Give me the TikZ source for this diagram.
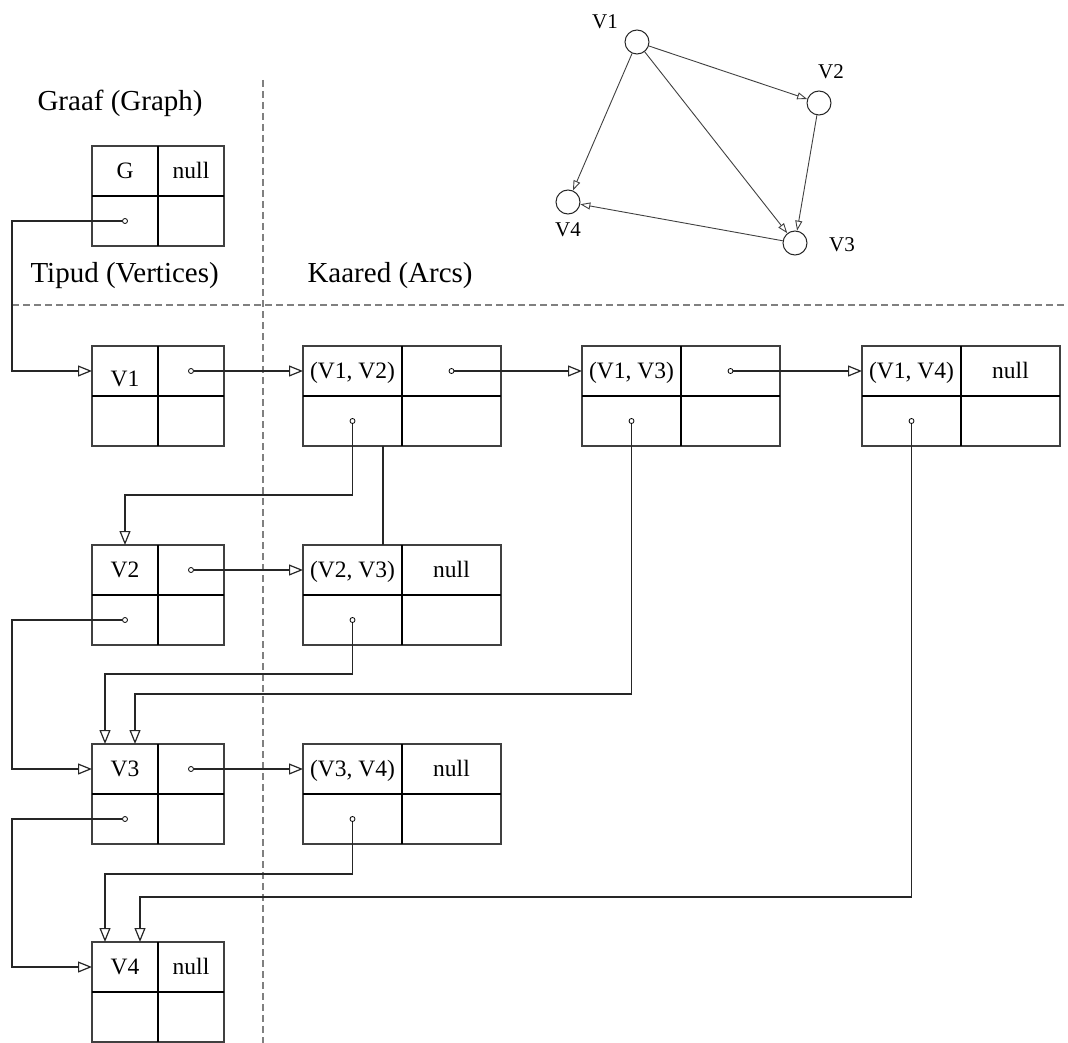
\documentclass[tikz,border=0pt]{standalone}
\usepackage{fontspec}
\setmainfont{Liberation Serif}
\usetikzlibrary{arrows.meta,positioning,calc}

\begin{document}
\begin{tikzpicture}[
    x=1pt, y=-1pt,
    cell/.style={rectangle, minimum height=50pt, inner sep=0pt, outer sep=0pt, anchor=north west,
        text height=16pt, text depth=0.5pt, font=\fontsize{23.5}{28}\selectfont},
    boxline/.style={line width=1.2pt, black!75},
    midline/.style={line width=1.8pt},
    dot/.style={circle, draw, fill=white, minimum size=5pt, inner sep=0pt, line width=0.8pt},
    link/.style={-{Triangle[open, length=14pt, width=11pt]}, line width=1.2pt, black!85},
    wire/.style={line width=1.2pt, black!85},
    vert/.style={circle, draw, minimum size=24pt, inner sep=0pt, line width=1pt, black!85},
    garc/.style={-{Triangle[open, length=10pt, width=7pt]}, line width=0.9pt, black!75},
    glabel/.style={font=\fontsize{21}{25}\selectfont},
    title/.style={anchor=base west, font=\fontsize{29}{34}\selectfont},
    sep/.style={gray, line width=1.2pt, dash pattern=on 7pt off 4pt}
]
    \useasboundingbox (0,0) rectangle (1068,1043);

    % Separators
    \draw[sep] (263,80) -- (263,1043);
    \draw[sep] (12,305) -- (1068,305);

    % Titles
    \node[title] (tgraph) at (34,111) {Graaf (Graph)};
    \node[title] (tvert) at (27,282) {Tipud (Vertices)};
    \node[title] (tarc) at (304,282) {Kaared (Arcs)};

    % Records
    \foreach \n/\x/\y/\w/\ta/\tb in {g/92/146/66/G/null, v1/92/346/66/{\raisebox{-8pt}{V1}}/,
        v2/92/545/66/V2/, v3/92/744/66/V3/, v4/92/942/66/V4/null,
        a12/303/346/99/{(V1, V2)}/, a13/582/346/99/{(V1, V3)}/, a14/862/346/99/{(V1, V4)}/null,
        a23/303/545/99/{(V2, V3)}/null, a34/303/744/99/{(V3, V4)}/null} {
        \node[cell, minimum width=\w] (\n-a) at (\x,\y) {\ta};
        \node[cell, minimum width=\w] (\n-b) at (\n-a.north east) {\tb};
        \node[cell, minimum width=\w] (\n-c) at (\n-a.south west) {};
        \node[cell, minimum width=\w] (\n-d) at (\n-c.north east) {};
        \draw[boxline] (\n-a.north west) rectangle (\n-d.south east);
        \draw[midline] (\n-a.south west) -- (\n-b.south east);
        \draw[midline] (\n-a.north east) -- (\n-c.south east);
    }

    % Pointer dots
    \foreach \n in {g-c, v1-b, v2-b, v2-c, v3-b, v3-c, a12-b, a12-c, a13-b, a13-c, a14-c, a23-c, a34-c} {
        \node[dot] (p-\n) at (\n) {};
    }

    % Links
    \coordinate (lft) at (12,0);
    \draw[link] (p-g-c) -- (p-g-c -| lft) |- (v1-a.west);
    \draw[link] (p-v2-c) -- (p-v2-c -| lft) |- (v3-a.west);
    \draw[link] (p-v3-c) -- (p-v3-c -| lft) |- (v4-a.west);
    \draw[link] (p-v1-b) -- (a12-a.west);
    \draw[link] (p-a12-b) -- (a13-a.west);
    \draw[link] (p-a13-b) -- (a14-a.west);
    \draw[link] (p-v2-b) -- (a23-a.west);
    \draw[link] (p-v3-b) -- (a34-a.west);
    \draw[link] (p-a12-c) -- ++(0,74) -| (v2-a.north);
    \draw[wire] ([xshift=-19pt]a12-c.south east) -- ([xshift=-19pt]a23-a.north east);
    \draw[link] (p-a23-c) -- ++(0,54) -| ([xshift=13pt]v3-a.north west);
    \draw[link] (p-a13-c) -- ++(0,273) -| ([xshift=43pt]v3-a.north west);
    \draw[link] (p-a34-c) -- ++(0,55) -| ([xshift=13pt]v4-a.north west);
    \draw[link] (p-a14-c) -- ++(0,476) -| ([xshift=48pt]v4-a.north west);

    % Small graph
    \node[vert] (gv1) at (637,42) {};
    \node[vert] (gv2) at (819,103) {};
    \node[vert] (gv3) at (795,243) {};
    \node[vert] (gv4) at (568,202) {};
    \node[glabel] (lv1) at (605,22) {V1};
    \node[glabel] (lv2) at (831,72) {V2};
    \node[glabel] (lv3) at (842,245) {V3};
    \node[glabel] (lv4) at (568,230) {V4};
    \draw[garc] (gv1) -- (gv2);
    \draw[garc] (gv1) -- (gv3);
    \draw[garc] (gv1) -- (gv4);
    \draw[garc] (gv2) -- (gv3);
    \draw[garc] (gv3) -- (gv4);
\end{tikzpicture}
\end{document}
